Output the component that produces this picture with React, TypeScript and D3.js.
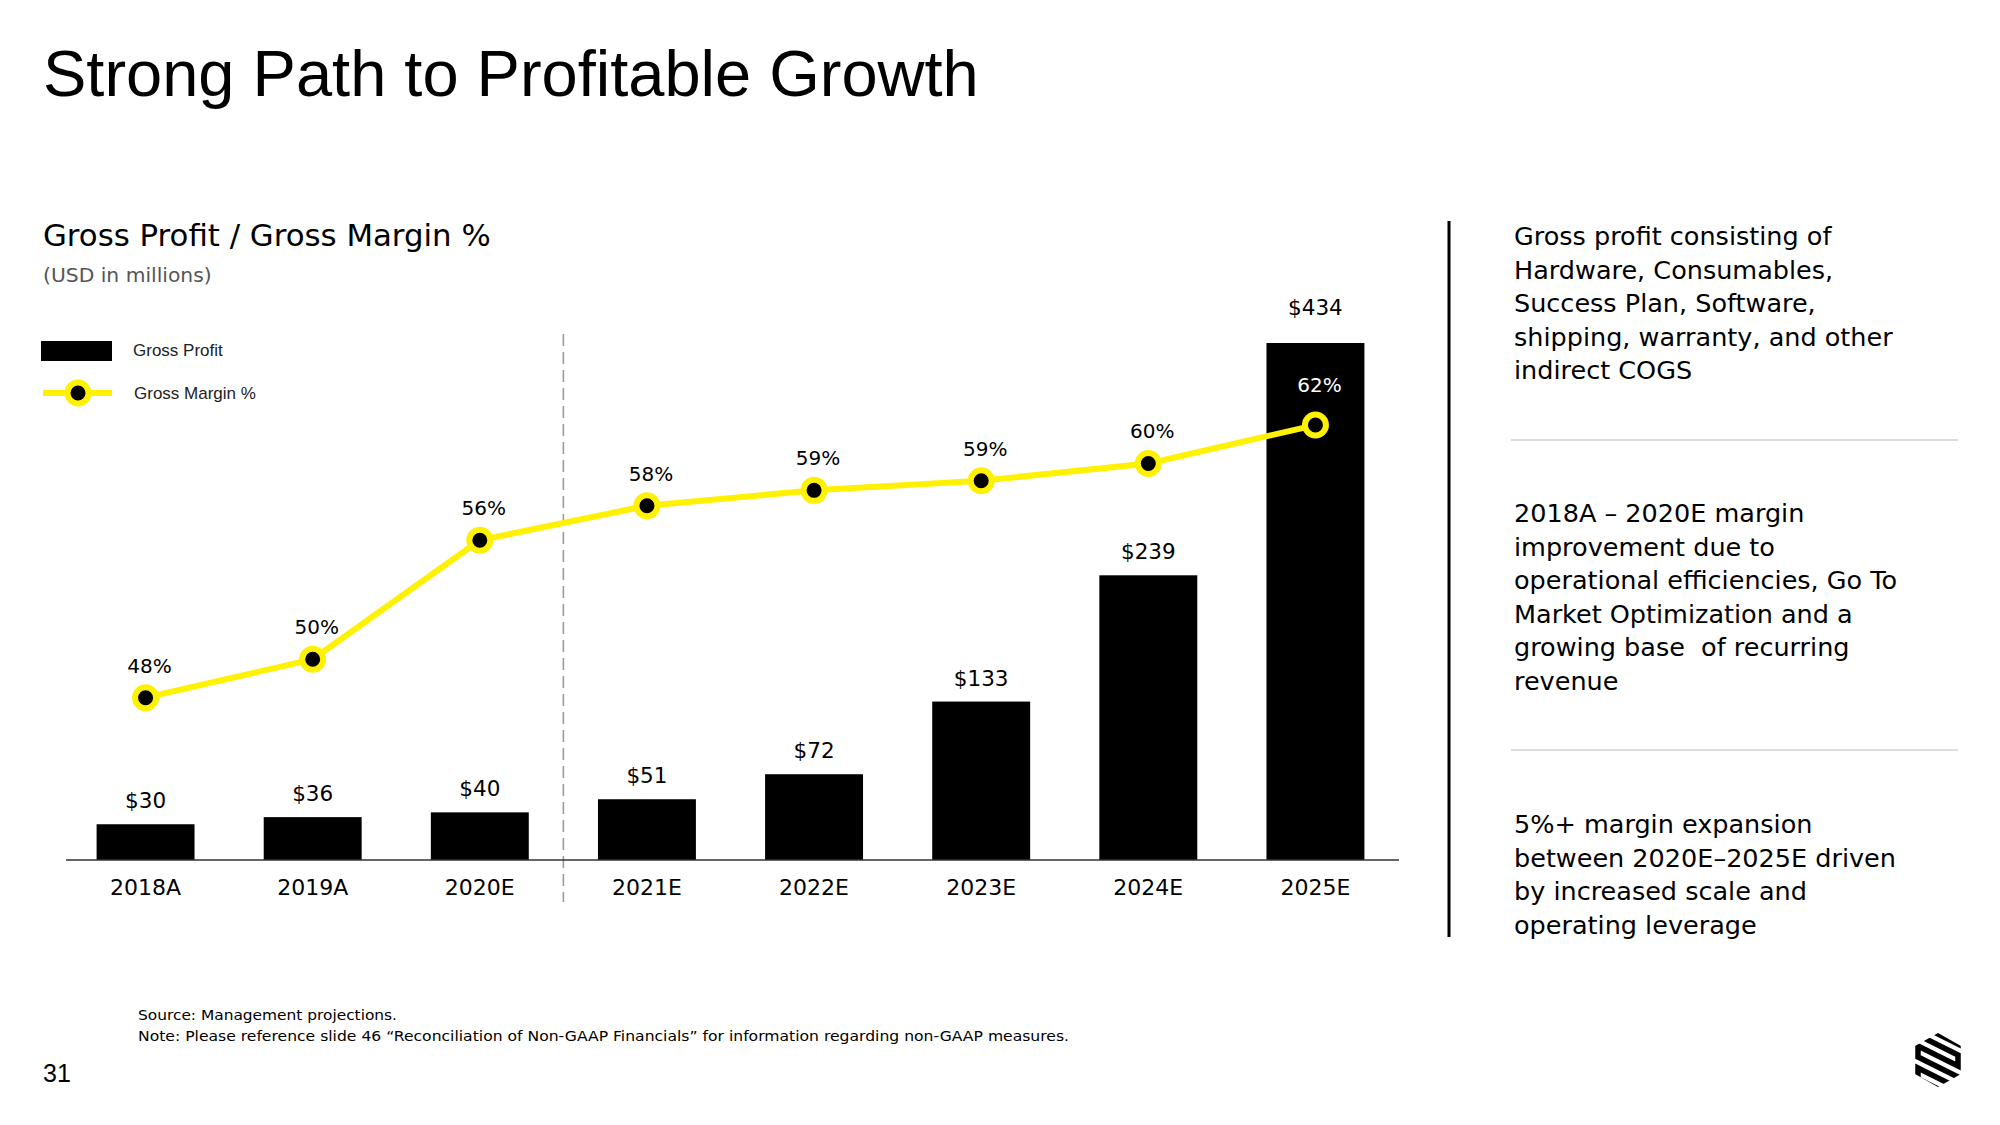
import React from "react";
import * as d3 from "d3";

const categories = ["2018A", "2019A", "2020E", "2021E", "2022E", "2023E", "2024E", "2025E"];
const grossProfit = [30, 36, 40, 51, 72, 133, 239, 434];
const grossMargin = [48.0, 50.0, 56.2, 58.0, 58.8, 59.3, 60.2, 62.2];
const actualCount = 3; // 2018A..2020E left of divider

const title = "Strong Path to Profitable Growth";
const chartTitle = "Gross Profit / Gross Margin %";
const chartUnit = "(USD in millions)";
const legendLabels = ["Gross Profit", "Gross Margin %"];

const block1 = ["Gross profit consisting of", "Hardware, Consumables,", "Success Plan, Software,", "shipping, warranty, and other", "indirect COGS"];
const block2 = ["2018A \u2013 2020E margin", "improvement due to", "operational efficiencies, Go To", "Market Optimization and a", "growing base  of recurring", "revenue"];
const block3 = ["5%+ margin expansion", "between 2020E\u20132025E driven", "by increased scale and", "operating leverage"];

const sourceNote = "Source: Management projections.";
const footNote = "Note: Please reference slide 46 \u201cReconciliation of Non-GAAP Financials\u201d for information regarding non-GAAP measures.";
const pageNumber = "31";

const YELLOW = "#FFF200";
const GEO = "'DejaVu Sans', sans-serif";
const ARIAL = "'Liberation Sans', Arial, sans-serif";

export default function App() {
  const x = d3.scaleBand<string>().domain(categories).range([62, 1399]).paddingInner(0.414).paddingOuter(0.207);
  const yBar = d3.scaleLinear().domain([0, 434]).range([860, 343]);
  const yLine = d3.scaleLinear().domain([40, 65]).range([851.3, 371.3]);
  const cx = (c: string) => (x(c) as number) + x.bandwidth() / 2;

  const line = d3
    .line<number>()
    .x((_, i) => cx(categories[i]))
    .y((d) => yLine(d));

  const dividerX = (cx(categories[actualCount - 1]) + cx(categories[actualCount])) / 2;

  const hex: [number, number][] = [[23, 0], [46, 13], [46, 41], [23, 54], [0, 41], [0, 13]];
  const rowOffsets = [-20, -9, 2, 13, 24, 35, 46, 57];
  const serp: [number, number][] = [];
  rowOffsets.forEach((o, k) => {
    const left: [number, number] = [3, o];
    const right: [number, number] = [43, o + 20];
    if (k % 2 === 0) { serp.push(left, right); } else { serp.push(right, left); }
  });

  const blocks = [
    { lines: block1, y0: 245 },
    { lines: block2, y0: 522 },
    { lines: block3, y0: 833 },
  ];

  return (
    <svg width={2000} height={1125} style={{ position: "absolute", left: 0, top: 0, background: "#fff" }}>
      <rect width={2000} height={1125} fill="#fff" />
      <text x={43} y={96} fontFamily={ARIAL} fontSize={65} fill="#000">{title}</text>

      <text x={43} y={246} fontFamily={GEO} fontSize={30.8} fill="#000">{chartTitle}</text>
      <text x={43} y={282} fontFamily={GEO} fontSize={20.3} fill="#555">{chartUnit}</text>

      {/* legend */}
      <rect x={41} y={341} width={71} height={20} fill="#000" />
      <text x={133} y={356} fontFamily={ARIAL} fontSize={17} fill="#222">{legendLabels[0]}</text>
      <line x1={43} x2={112} y1={393} y2={393} stroke={YELLOW} strokeWidth={6} />
      <circle cx={78} cy={393} r={10.5} fill="#000" stroke={YELLOW} strokeWidth={6} />
      <text x={134} y={399} fontFamily={ARIAL} fontSize={17} fill="#222">{legendLabels[1]}</text>

      {/* divider */}
      <line x1={dividerX} x2={dividerX} y1={334} y2={902} stroke="#9a9a9a" strokeWidth={1.6} strokeDasharray="12,6" />

      {/* bars */}
      {categories.map((c, i) => (
        <rect key={c} x={x(c)} y={yBar(grossProfit[i])} width={x.bandwidth()} height={860 - yBar(grossProfit[i])} fill="#000" />
      ))}
      <line x1={66} x2={1399} y1={860} y2={860} stroke="#333" strokeWidth={1.5} />

      {/* bar value labels */}
      {categories.map((c, i) => {
        const inside = yLine(grossMargin[i]) > yBar(grossProfit[i]);
        return (
          <text key={c} x={cx(c)} y={yBar(grossProfit[i]) - (inside ? 28 : 16)} textAnchor="middle" fontFamily={GEO} fontSize={21.5} fill="#000">
            {"$" + grossProfit[i]}
          </text>
        );
      })}

      {/* category labels */}
      {categories.map((c) => (
        <text key={c} x={cx(c)} y={895} textAnchor="middle" fontFamily={GEO} fontSize={22} fill="#000">{c}</text>
      ))}

      {/* margin line */}
      <path d={line(grossMargin) as string} fill="none" stroke={YELLOW} strokeWidth={6} strokeLinejoin="round" />
      {categories.map((c, i) => (
        <circle key={c} cx={cx(c)} cy={yLine(grossMargin[i])} r={10.5} fill="#000" stroke={YELLOW} strokeWidth={6} />
      ))}
      {categories.map((c, i) => {
        const inside = yLine(grossMargin[i]) > yBar(grossProfit[i]);
        return (
          <text key={c} x={cx(c) + 4} y={yLine(grossMargin[i]) - (inside ? 33 : 25)} textAnchor="middle" fontFamily={GEO} fontSize={20} fill={inside ? "#fff" : "#000"}>
            {Math.round(grossMargin[i]) + "%"}
          </text>
        );
      })}

      {/* right panel */}
      <line x1={1449} x2={1449} y1={221} y2={937} stroke="#000" strokeWidth={3} />
      <line x1={1511} x2={1958} y1={440} y2={440} stroke="#ddd" strokeWidth={2} />
      <line x1={1511} x2={1958} y1={750} y2={750} stroke="#ddd" strokeWidth={2} />
      {blocks.map((b, bi) => (
        <g key={bi}>
          {b.lines.map((t, li) => (
            <text key={li} x={1514} y={b.y0 + li * 33.5} fontFamily={GEO} fontSize={25.5} fill="#000" style={{ whiteSpace: "pre" }}>{t}</text>
          ))}
        </g>
      ))}

      {/* footnotes */}
      <text x={138} y={1020} fontFamily={GEO} fontSize={14} fill="#000" textLength={259} lengthAdjust="spacingAndGlyphs">{sourceNote}</text>
      <text x={138} y={1041} fontFamily={GEO} fontSize={14} fill="#000" textLength={931} lengthAdjust="spacingAndGlyphs">{footNote}</text>
      <text x={43} y={1082} fontFamily={ARIAL} fontSize={25} fill="#000">{pageNumber}</text>

      {/* logo */}
      <g transform="translate(1915,1033)">
        <clipPath id="hexclip">
          <polygon points={hex.map((p) => p.join(",")).join(" ")} />
        </clipPath>
        <polyline clipPath="url(#hexclip)" points={serp.map((p) => p.join(",")).join(" ")} fill="none" stroke="#000" strokeWidth={5.5} strokeLinejoin="miter" />
      </g>
    </svg>
  );
}
